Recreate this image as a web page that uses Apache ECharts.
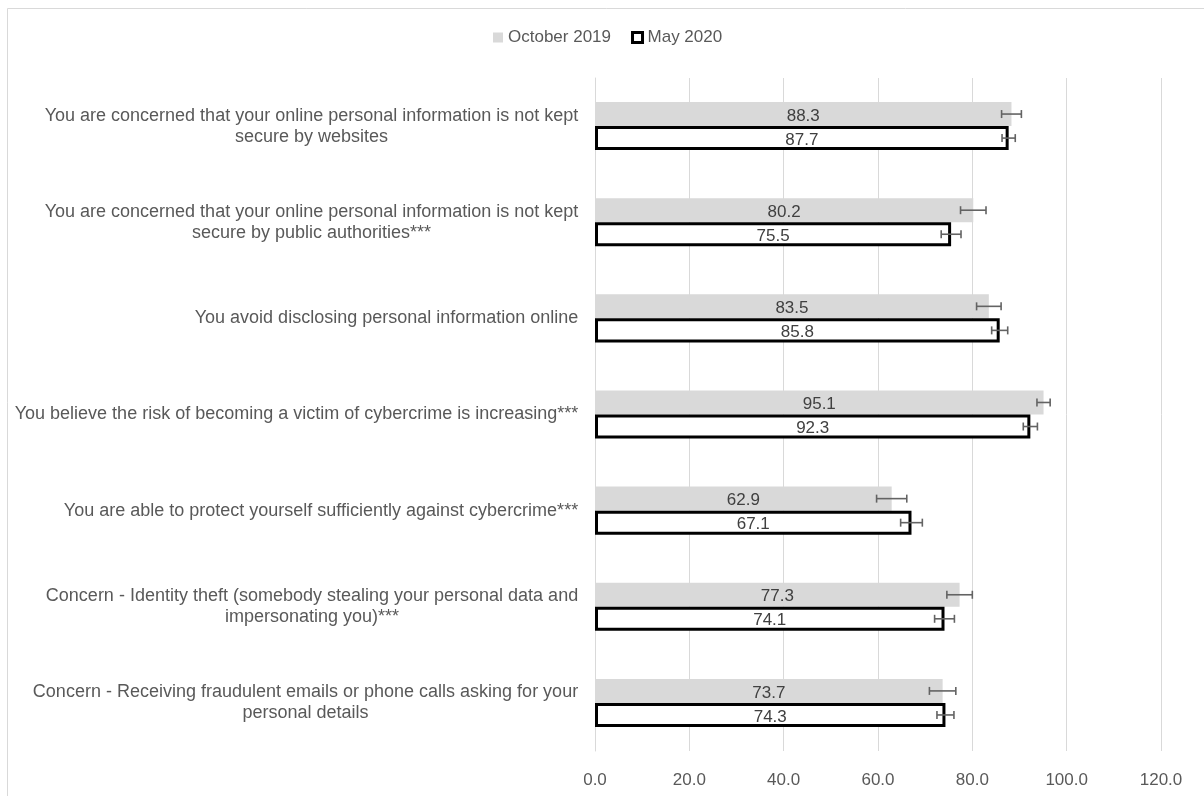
<!DOCTYPE html>
<html>
<head>
<meta charset="utf-8">
<script src="https://cdn.jsdelivr.net/npm/echarts@6/dist/echarts.min.js"></script>
<style>
html,body{margin:0;padding:0;background:#fff;}
#chart{width:1204px;height:796px;}
</style>
</head>
<body>
<div id="chart"></div>
<script>
var categories = [
  "You are concerned that your online personal information is not kept\nsecure by websites",
  "You are concerned that your online personal information is not kept\nsecure by public authorities***",
  "You avoid disclosing personal information online",
  "You believe the risk of becoming a victim of cybercrime is increasing***",
  "You are able to protect yourself sufficiently against cybercrime***",
  "Concern - Identity theft (somebody stealing your personal data and\nimpersonating you)***",
  "Concern - Receiving fraudulent emails or phone calls asking for your\npersonal details"
];
var seriesNames = ["October 2019", "May 2020"];
var oct2019 = [88.3, 80.2, 83.5, 95.1, 62.9, 77.3, 73.7];
var may2020 = [87.7, 75.5, 85.8, 92.3, 67.1, 74.1, 74.3];
var errOct2019 = [2.1, 2.7, 2.6, 1.4, 3.2, 2.7, 2.8];
var errMay2020 = [1.4, 2.1, 1.7, 1.5, 2.3, 2.1, 1.8];
var xTicks = [0, 20, 40, 60, 80, 100, 120];

var FONT = "Liberation Sans";
var FS = 18;
var FSN = 17;
var TXT = "#595959";

// per-label rich styles so that wrapped lines are centred under each other
var ctx = document.createElement("canvas").getContext("2d");
ctx.font = FS + "px " + FONT;
var rich = {};
categories.forEach(function (c, i) {
  var w = 0;
  c.split("\n").forEach(function (l) { w = Math.max(w, ctx.measureText(l).width); });
  rich["l" + i] = { width: Math.ceil(w) + 1, align: "center", fontFamily: FONT, fontSize: FS, color: TXT, lineHeight: 21 };
});

function errData(vals, errs) {
  return vals.map(function (v, i) { return [i, v - errs[i], v + errs[i]]; });
}
function errRender(sign) {
  return function (params, api) {
    var i = api.value(0);
    var p1 = api.coord([api.value(1), i]);
    var p2 = api.coord([api.value(2), i]);
    var band = api.size([0, 1])[1];
    var y = p1[1] + sign * band * 0.125;
    var h = 4;
    var st = { stroke: "#636363", lineWidth: 1.6 };
    return {
      type: "group",
      children: [
        { type: "line", shape: { x1: p1[0], y1: y, x2: p2[0], y2: y }, style: st },
        { type: "line", shape: { x1: p1[0], y1: y - h, x2: p1[0], y2: y + h }, style: st },
        { type: "line", shape: { x1: p2[0], y1: y - h, x2: p2[0], y2: y + h }, style: st }
      ]
    };
  };
}

var chart = echarts.init(document.getElementById("chart"), null, { renderer: "canvas" });
chart.setOption({
  animation: false,
  backgroundColor: "#fff",
  textStyle: { fontFamily: FONT },
  graphic: [{
    type: "rect",
    shape: { x: 7.5, y: 8.5, width: 1220, height: 800 },
    style: { fill: "none", stroke: "#d9d9d9", lineWidth: 1 },
    silent: true, z: -1
  }],
  legend: {
    left: 493, top: 29, padding: 0,
    itemWidth: 10, itemHeight: 10, itemGap: 20,
    textStyle: { fontFamily: FONT, fontSize: 17, color: TXT },
    data: [
      { name: seriesNames[0], icon: "rect", itemStyle: { color: "#d9d9d9", borderWidth: 0 } },
      { name: seriesNames[1], icon: "rect", itemStyle: { color: "#fff", borderColor: "#000", borderWidth: 3 } }
    ]
  },
  grid: { left: 595, right: 43, top: 78, bottom: 45, containLabel: false },
  xAxis: {
    type: "value", min: 0, max: 120, interval: 20,
    axisLine: { show: false }, axisTick: { show: false },
    splitLine: { show: true, lineStyle: { color: "#d9d9d9", width: 1 } },
    axisLabel: {
      margin: 21, fontFamily: FONT, fontSize: FSN, color: TXT,
      formatter: function (v) { return xTicks.indexOf(v) >= 0 ? v.toFixed(1) : ""; }
    }
  },
  yAxis: {
    type: "category", inverse: true, data: categories,
    axisLine: { show: true, lineStyle: { color: "#d9d9d9" } }, axisTick: { show: false },
    axisLabel: {
      margin: 16, align: "right",
      formatter: function (v, i) {
        return v.split("\n").map(function (l) { return "{l" + i + "|" + l + "}"; }).join("\n");
      },
      rich: rich
    }
  },
  series: [
    {
      name: seriesNames[0], type: "bar", data: oct2019,
      barGap: "0%", barCategoryGap: "50%",
      itemStyle: { color: "#d9d9d9" },
      label: { show: true, position: "inside", offset: [0, 2], fontFamily: FONT, fontSize: FSN, color: "#404040",
               formatter: function (p) { return p.value.toFixed(1); } }
    },
    {
      name: seriesNames[1], type: "bar", data: may2020,
      barGap: "0%", barCategoryGap: "50%",
      itemStyle: { color: "#fff", borderColor: "#000", borderWidth: 3 },
      label: { show: true, position: "inside", offset: [0, 2], fontFamily: FONT, fontSize: FSN, color: "#404040",
               formatter: function (p) { return p.value.toFixed(1); } }
    },
    {
      type: "custom", name: "errOct", data: errData(oct2019, errOct2019),
      encode: { x: [1, 2], y: 0 }, renderItem: errRender(-1), z: 5, silent: true
    },
    {
      type: "custom", name: "errMay", data: errData(may2020, errMay2020),
      encode: { x: [1, 2], y: 0 }, renderItem: errRender(1), z: 5, silent: true
    }
  ]
});
</script>
</body>
</html>
